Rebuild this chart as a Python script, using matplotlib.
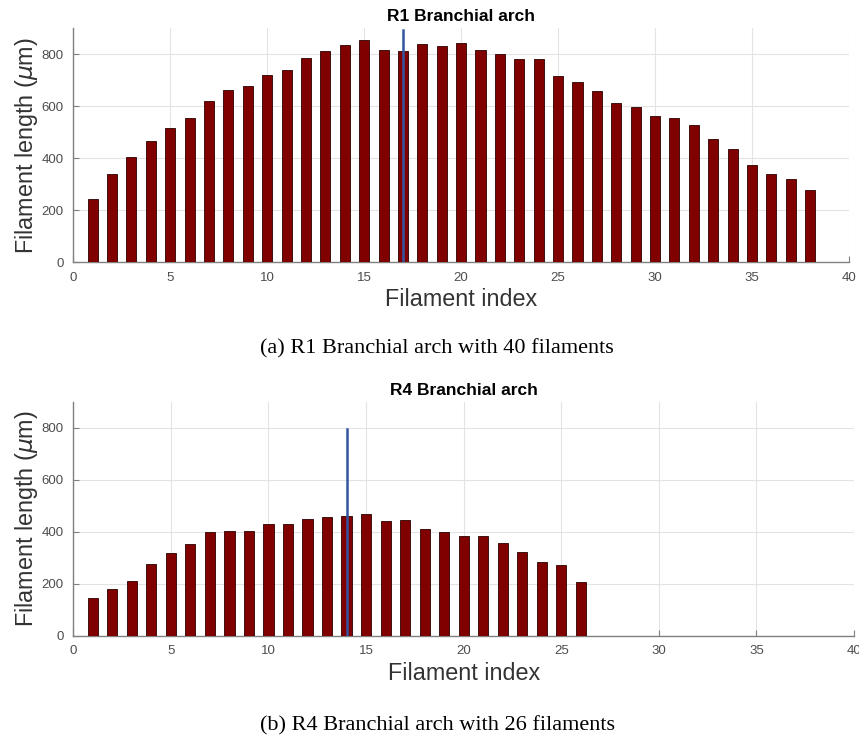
import matplotlib
matplotlib.use("Agg")
import matplotlib.pyplot as plt

# filament lengths (um) per branchial arch
r1_index = list(range(1, 39))
r1_length = [243, 339, 403, 467, 515, 553, 620, 662, 677, 722,
             739, 786, 814, 837, 855, 818, 814, 838, 832, 842,
             818, 801, 782, 780, 718, 694, 657, 614, 598, 562,
             556, 527, 474, 436, 372, 339, 320, 276]
r1_marker = 17
r1_marker_top = 895

r4_index = list(range(1, 27))
r4_length = [144, 179, 211, 277, 318, 351, 399, 404, 404, 429,
             431, 447, 456, 460, 468, 440, 443, 410, 399, 383,
             384, 355, 321, 284, 272, 208]
r4_marker = 14
r4_marker_top = 795

x_ticks = [0, 5, 10, 15, 20, 25, 30, 35, 40]
y_ticks = [0, 200, 400, 600, 800]

plt.rcParams['font.family'] = ['Liberation Sans', 'DejaVu Sans']
plt.rcParams['mathtext.fontset'] = 'dejavusans'

fig = plt.figure(figsize=(8.59, 7.36), dpi=100)
ax_top = fig.add_axes([0.0853, 0.644, 0.903, 0.3175])
ax_bot = fig.add_axes([0.0853, 0.1363, 0.909, 0.318])

panels = [
    (ax_top, r1_index, r1_length, r1_marker, r1_marker_top, 'R1 Branchial arch',
     '(a) R1 Branchial arch with 40 filaments', 0.526),
    (ax_bot, r4_index, r4_length, r4_marker, r4_marker_top, 'R4 Branchial arch',
     '(b) R4 Branchial arch with 26 filaments', 0.0145),
]

for ax, idx, length, marker, marker_top, title, caption, cap_y in panels:
    ax.bar(idx, length, width=0.52, color='#800000', edgecolor='#2b0000', linewidth=0.6, zorder=3)
    ax.plot([marker, marker], [0, marker_top], color='#3355a0', linewidth=1.8, zorder=4)
    ax.set_xlim(0, 40)
    ax.set_ylim(0, 900)
    ax.set_xticks(x_ticks)
    ax.set_yticks(y_ticks)
    ax.grid(True, color='#e3e3e3', linewidth=0.8, zorder=0)
    ax.set_axisbelow(True)
    for side in ['top', 'right']:
        ax.spines[side].set_visible(False)
    for side in ['left', 'bottom']:
        ax.spines[side].set_color('#808080')
        ax.spines[side].set_linewidth(1.0)
    ax.tick_params(direction='in', length=4, color='#808080', labelsize=9.5,
                   labelcolor='#4d4d4d', pad=7)
    ax.set_title(title, fontsize=12.5, fontweight='bold', pad=5)
    ax.set_xlabel('Filament index', fontsize=16.8, color='#333333', labelpad=3)
    ax.set_ylabel(r'Filament length ($\mu$m)', fontsize=16.8, color='#333333', labelpad=1)
    fig.text(0.509, cap_y, caption, ha='center', va='center',
             fontsize=16, family='Liberation Serif')

fig.savefig('out.png', dpi=100)
